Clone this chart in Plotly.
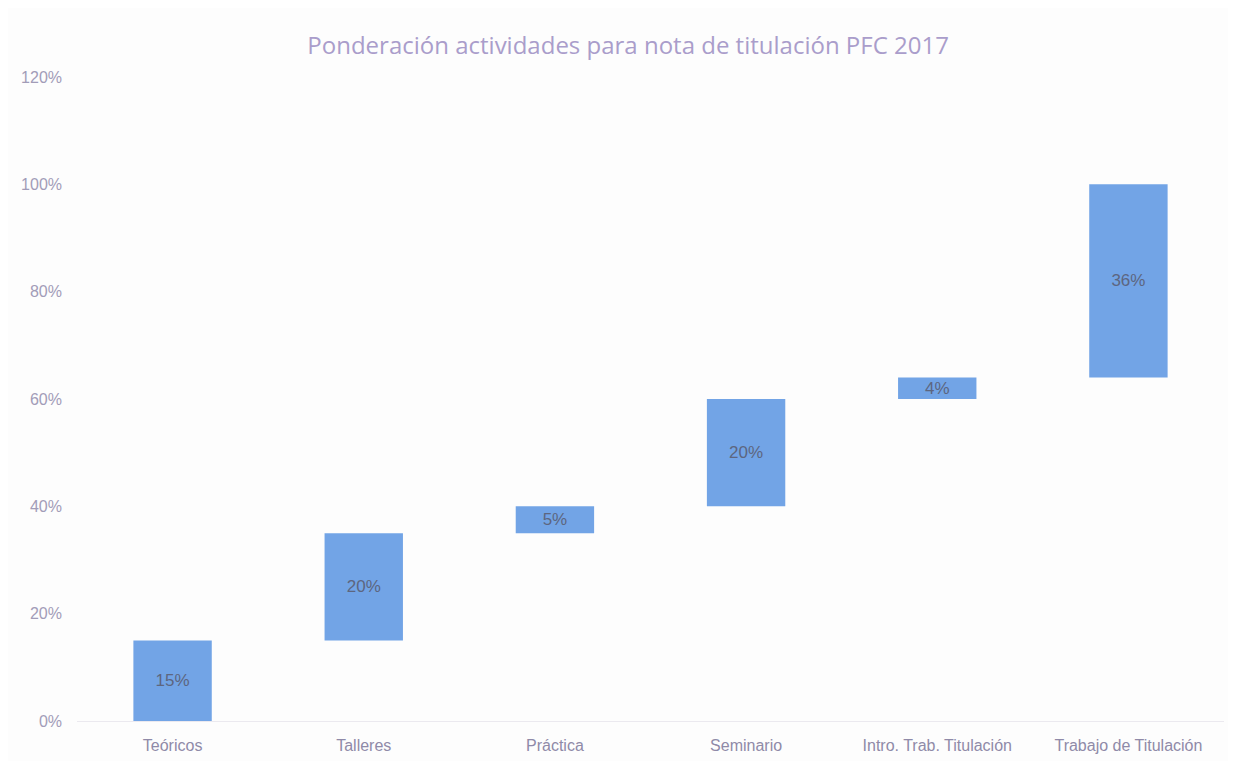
import plotly.graph_objects as go

categories = ["Teóricos", "Talleres", "Práctica", "Seminario", "Intro. Trab. Titulación", "Trabajo de Titulación"]
values = [15, 20, 5, 20, 4, 36]
labels = ["15%", "20%", "5%", "20%", "4%", "36%"]
tick_vals = [0, 20, 40, 60, 80, 100, 120]
tick_text = ["0%", "20%", "40%", "60%", "80%", "100%", "120%"]

bases = []
run = 0
for v in values:
    bases.append(run)
    run += v

fig = go.Figure()
fig.add_trace(go.Bar(
    x=categories, y=values, base=bases,
    marker=dict(color="#72a4e6", line=dict(width=0)),
    text=labels, textposition="inside", insidetextanchor="middle",
    textfont=dict(family="Liberation Sans, Arial", size=17, color="#5d6680"),
    cliponaxis=False,
    showlegend=False,
))

fig.update_layout(
    width=1228, height=753,
    paper_bgcolor="#fdfdfd", plot_bgcolor="#fdfdfd",
    margin=dict(l=69, r=12, t=69, b=40),
    bargap=0.59,
    uniformtext=dict(minsize=17, mode="show"),
    title=dict(text="Ponderación actividades para nota de titulación PFC 2017",
               x=0.505, xanchor="center", y=1 - 38 / 753, yanchor="middle",
               font=dict(family="Open Sans, Noto Sans", size=24, color="#aa9dcb")),
    xaxis=dict(showgrid=False, showline=True, linecolor="#ebe9ef", ticks="",
               ticklabelstandoff=10, automargin=False,
               tickfont=dict(family="Liberation Sans, Arial", size=16, color="#8f8aa8")),
    yaxis=dict(range=[0, 120], tickvals=tick_vals, ticktext=tick_text,
               showgrid=False, zeroline=False, showline=False, ticks="",
               ticklabelstandoff=14, automargin=False,
               tickfont=dict(family="Liberation Sans, Arial", size=16, color="#a29cb8")),
)

fig.write_html("out.html")
